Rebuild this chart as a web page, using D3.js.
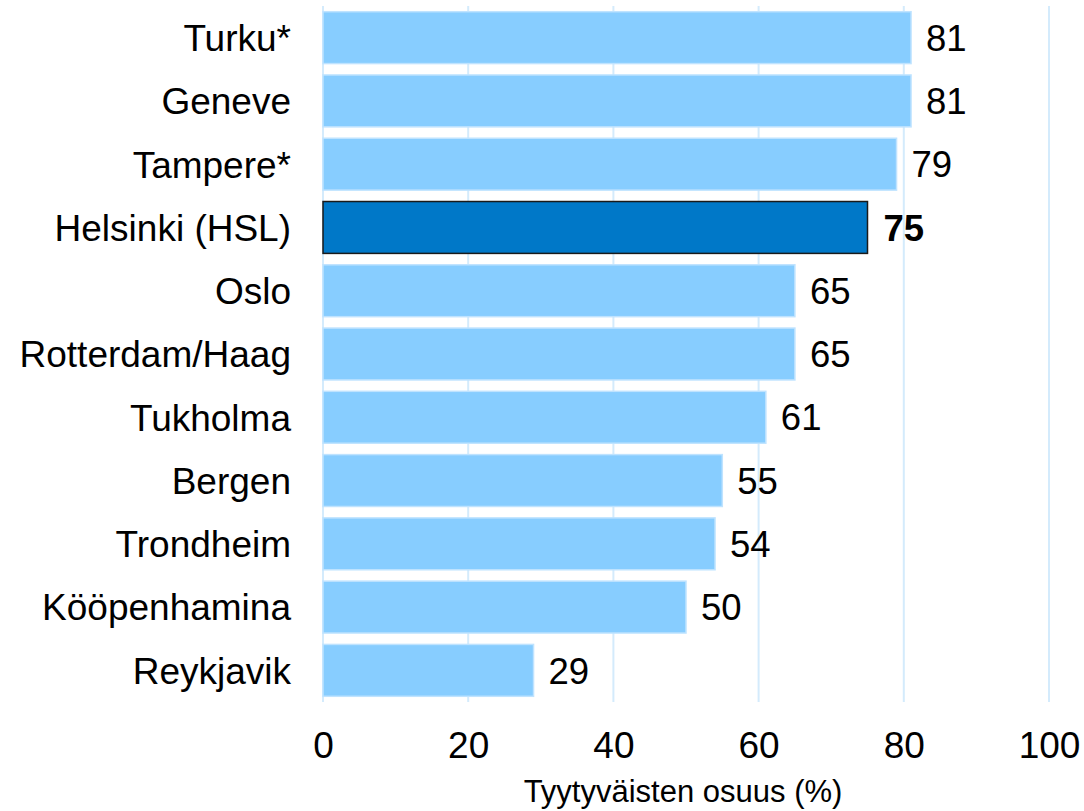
<!DOCTYPE html>
<html><head><meta charset="utf-8">
<script src="https://cdn.jsdelivr.net/npm/d3@7"></script>
<style>body{margin:0;background:#fff}svg{display:block}text{font-family:"Liberation Sans",Arial,sans-serif}</style>
</head><body>
<svg id="c" width="1084" height="811"></svg>
<script>
const categories = ["Turku*","Geneve","Tampere*","Helsinki (HSL)","Oslo","Rotterdam/Haag","Tukholma","Bergen","Trondheim","Kööpenhamina","Reykjavik"];
const values = [81,81,79,75,65,65,61,55,54,50,29];
const highlight = "Helsinki (HSL)";
const xTicks = [0,20,40,60,80,100];
const xTitle = "Tyytyväisten osuus (%)";

const svg = d3.select("#c");
const x = d3.scaleLinear().domain([0,100]).range([323,1049]);
const y = d3.scaleBand().domain(categories).range([6,702]).paddingInner(0.18).paddingOuter(0.09);

// gridlines
svg.append("g").selectAll("line").data(xTicks).join("line")
  .attr("x1", d=>x(d)).attr("x2", d=>x(d)).attr("y1", 6).attr("y2", 702)
  .attr("stroke", "#d4ebfc").attr("stroke-width", 2);

const data = categories.map((c,i)=>({c, v: values[i]}));
svg.append("g").selectAll("rect").data(data).join("rect")
  .attr("x", x(0)).attr("y", d=>y(d.c)).attr("width", d=>x(d.v)-x(0)).attr("height", y.bandwidth())
  .attr("fill", d=>d.c===highlight ? "#0078c8" : "#87cdff")
  .attr("stroke", d=>d.c===highlight ? "#1a1a1a" : "#bfe3ff")
  .attr("stroke-width", 1.5);

// value labels
svg.append("g").selectAll("text").data(data).join("text")
  .attr("x", d=>x(d.v) + (d.c===highlight?16:15)).attr("y", d=>y(d.c)+y.bandwidth()/2)
  .attr("dy", "0.36em").attr("font-size", 36.5)
  .attr("font-weight", d=>d.c===highlight ? "bold" : "normal")
  .attr("fill", "#000").text(d=>d.v);

// category labels
svg.append("g").selectAll("text").data(categories).join("text")
  .attr("x", 291).attr("y", d=>y(d)+y.bandwidth()/2).attr("dy","0.36em")
  .attr("text-anchor","end").attr("font-size", 37).attr("fill","#000").text(d=>d);

// x axis tick labels
const xAxis = d3.axisBottom(x).tickValues(xTicks).tickSize(0).tickPadding(0).tickFormat(d3.format("d"));
const gx = svg.append("g").attr("transform","translate(0,732)").call(xAxis);
gx.select(".domain").remove();
gx.selectAll("text").attr("font-size", 37).attr("fill","#000").attr("font-family",'"Liberation Sans",Arial,sans-serif').attr("dy","0.71em");

svg.append("text").attr("x", 683).attr("y", 802).attr("text-anchor","middle")
  .attr("font-size", 31).attr("fill","#000").text(xTitle);
</script>
</body></html>
